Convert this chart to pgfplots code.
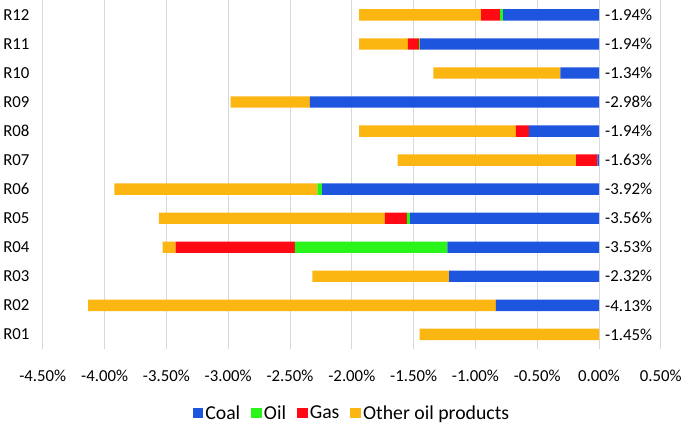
\documentclass[border=0pt]{standalone}
\usepackage{pgfplots}
\pgfplotsset{compat=1.18}
\usepackage{pgfplotstable}
\usepackage{fontspec}
\setmainfont{Carlito}

\definecolor{coal}{RGB}{30,85,222}
\definecolor{oil}{RGB}{42,245,26}
\definecolor{gas}{RGB}{255,10,20}
\definecolor{other}{RGB}{252,182,18}
\definecolor{gridgray}{RGB}{217,217,217}

% contributions by fuel, in percent
\pgfplotstableread{
y  coal    oil     gas     other
1  0       0       0       -1.452
2  -0.834  0       0       -3.299
3  -1.213  0       0       -1.106
4  -1.227  -1.234  -0.964  -0.105
5  -1.529  -0.025  -0.179  -1.827
6  -2.240  -0.039  0       -1.641
7  -0.014  0       -0.172  -1.444
8  -0.568  0       -0.105  -1.267
9  -2.339  0       0       -0.641
10 -0.312  0       0       -1.028
11 -1.448  -0.007  -0.091  -0.394
12 -0.775  -0.025  -0.154  -0.986
}\shares

\tikzset{lbl/.style={anchor=west, inner sep=0pt, xshift=6pt, font=\fontsize{17}{19}\selectfont}}

\begin{document}
\begin{tikzpicture}
\begin{axis}[
    scale only axis,
    width=626pt, height=353pt,
    xbar stacked,
    bar width=11.5pt,
    xmin=-4.5, xmax=0.5,
    ymin=0.5, ymax=12.5,
    xtick={-4.5,-4,-3.5,-3,-2.5,-2,-1.5,-1,-0.5,0,0.5},
    xticklabels={-4.50\%,-4.00\%,-3.50\%,-3.00\%,-2.50\%,-2.00\%,-1.50\%,-1.00\%,-0.50\%,0.00\%,0.50\%},
    ytick={1,...,12},
    yticklabels={R01,R02,R03,R04,R05,R06,R07,R08,R09,R10,R11,R12},
    xmajorgrids,
    grid style={gridgray, line width=0.8pt},
    axis line style={draw=none},
    major tick length=0pt,
    tick label style={font=\fontsize{17}{19}\selectfont},
    yticklabel style={xshift=-10pt},
    xticklabel style={yshift=-18pt},
    legend style={at={(0.5,-0.15)}, anchor=north, draw=none,
        legend columns=-1, font=\fontsize{20}{22}\selectfont,
        /tikz/every even column/.append style={column sep=9pt}},
    legend image code/.code={\fill[#1] (0pt,-5.5pt) rectangle (11pt,5.5pt);},
]
\addplot[fill=coal, draw=none] table[x=coal, y=y] {\shares};
\addplot[fill=oil, draw=none] table[x=oil, y=y] {\shares};
\addplot[fill=gas, draw=none] table[x=gas, y=y] {\shares};
\addplot[fill=other, draw=none] table[x=other, y=y] {\shares};
\legend{Coal, Oil, Gas, Other oil products}

\node[lbl] at (axis cs:0,12) {-1.94\%};
\node[lbl] at (axis cs:0,11) {-1.94\%};
\node[lbl] at (axis cs:0,10) {-1.34\%};
\node[lbl] at (axis cs:0,9) {-2.98\%};
\node[lbl] at (axis cs:0,8) {-1.94\%};
\node[lbl] at (axis cs:0,7) {-1.63\%};
\node[lbl] at (axis cs:0,6) {-3.92\%};
\node[lbl] at (axis cs:0,5) {-3.56\%};
\node[lbl] at (axis cs:0,4) {-3.53\%};
\node[lbl] at (axis cs:0,3) {-2.32\%};
\node[lbl] at (axis cs:0,2) {-4.13\%};
\node[lbl] at (axis cs:0,1) {-1.45\%};
\end{axis}
\end{tikzpicture}
\end{document}
